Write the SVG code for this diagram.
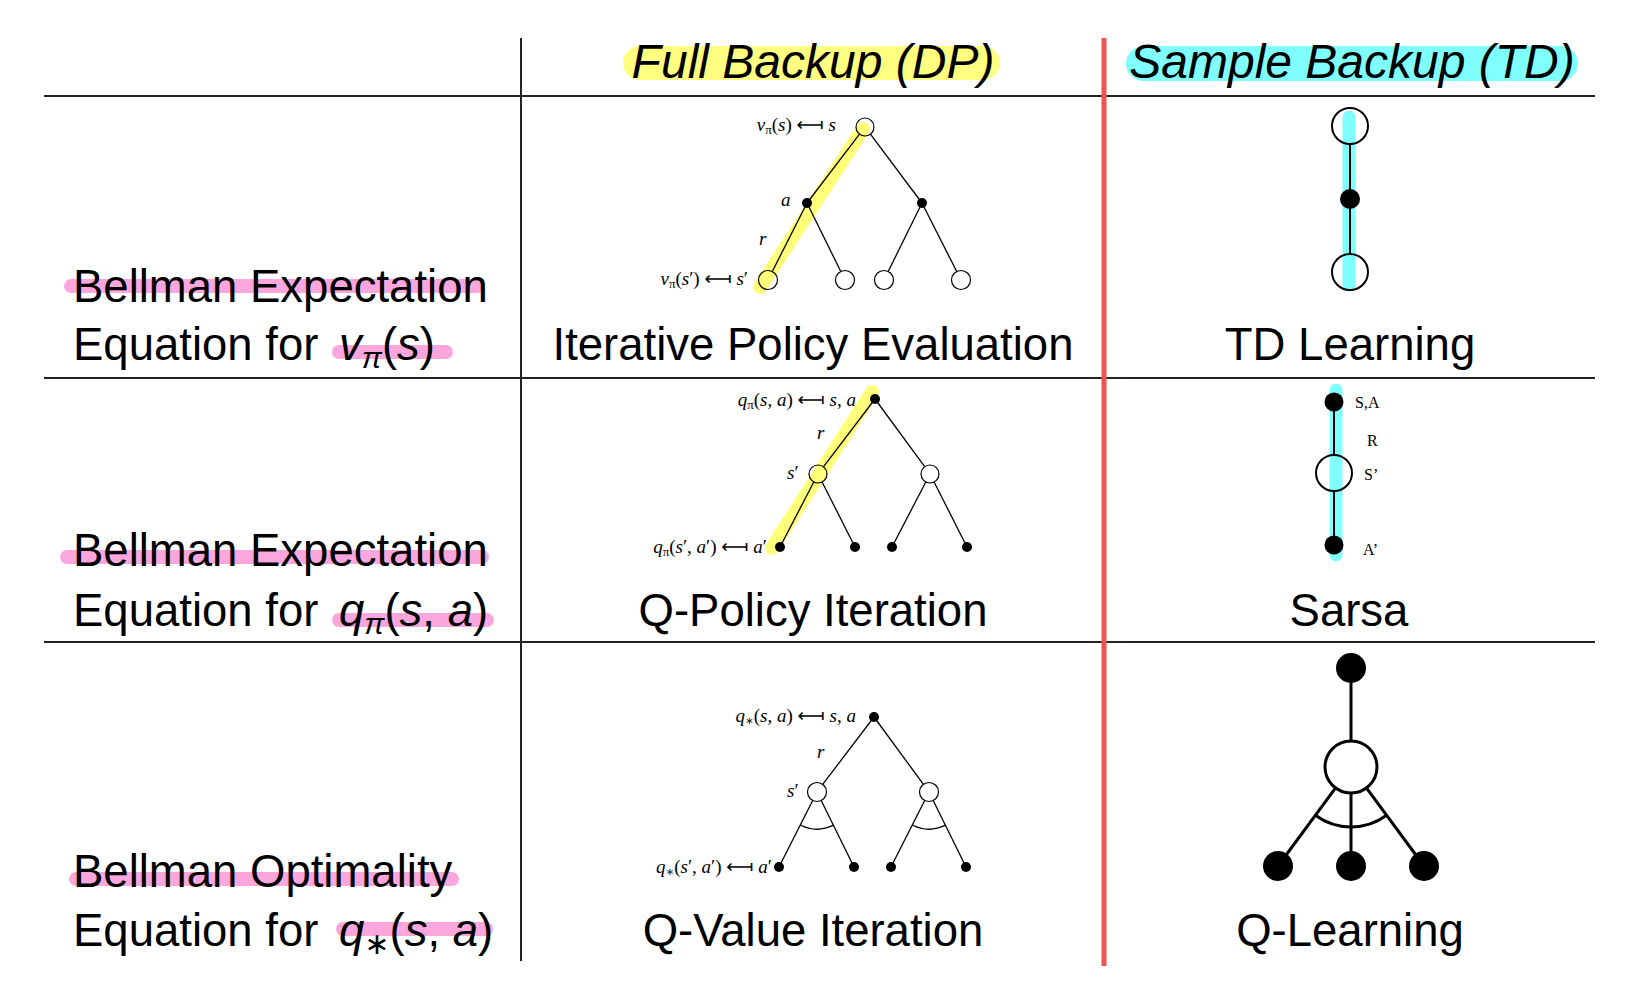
<svg xmlns="http://www.w3.org/2000/svg" width="1638" height="1000" viewBox="0 0 1638 1000">
<style>
.grid{stroke:#222;stroke-width:2;fill:none}
.red{stroke:#f05252;stroke-width:5;fill:none}
.t{font-family:"Liberation Sans","DejaVu Sans",sans-serif;font-size:45.5px;fill:#000}
.h{font-family:"Liberation Sans","DejaVu Sans",sans-serif;font-size:48px;font-style:italic;fill:#000}
.i{font-style:italic}
.m{font-family:"Liberation Serif","DejaVu Serif",serif;font-size:19px;fill:#000}
.arr{font-family:"DejaVu Sans",sans-serif;font-style:normal}
.sm{font-family:"Liberation Serif","DejaVu Serif",serif;font-size:16px;fill:#000}
.pink{stroke:#fba7dd;stroke-width:14;stroke-linecap:round;fill:none}
.yel{stroke:#ffff7a;stroke-width:14;stroke-linecap:round;fill:none}
.cyan{stroke:#80ffff;stroke-width:13;stroke-linecap:round;fill:none}
.e{stroke:#000;stroke-width:1.3;fill:none}
.e2{stroke:#000;stroke-width:2;fill:none}
.e3{stroke:#000;stroke-width:3;fill:none}
.o{fill:#fff;stroke:#000;stroke-width:1.2}
.oh{fill:none;stroke:#000;stroke-width:1.2}
.f{fill:#000}
.o2{fill:none;stroke:#000;stroke-width:2}
.o3{fill:#fff;stroke:#000;stroke-width:3}
</style>
<rect width="1638" height="1000" fill="#fff"/>

<g id="table">
<line class="grid" x1="44" y1="96" x2="1595" y2="96"/>
<line class="grid" x1="44" y1="378" x2="1595" y2="378"/>
<line class="grid" x1="44" y1="642" x2="1595" y2="642"/>
<line class="grid" x1="521" y1="38" x2="521" y2="961"/>
<line class="red" x1="1104" y1="38" x2="1104" y2="966"/>
</g>

<g id="highlights">
<rect x="623" y="46" width="377" height="34" rx="17" fill="#ffff80"/>
<rect x="1126" y="46" width="452" height="35" rx="17.5" fill="#80ffff"/>
<line class="pink" x1="71" y1="286" x2="477" y2="286"/>
<line class="pink" x1="339" y1="352" x2="446" y2="352"/>
<line class="pink" x1="67" y1="557" x2="482" y2="557"/>
<line class="pink" x1="339" y1="620" x2="487" y2="620"/>
<line class="pink" x1="76" y1="879" x2="452" y2="879"/>
<line class="pink" x1="343" y1="929" x2="486" y2="929"/>
<line class="yel" x1="863" y1="129" x2="760" y2="287"/>
<line class="yel" x1="872" y1="392" x2="772" y2="548"/>
<line class="cyan" x1="1349" y1="117" x2="1349" y2="285"/>
<line class="cyan" x1="1336" y1="390" x2="1336" y2="555"/>
</g>

<g id="headers">
<text class="h" x="813" y="78" text-anchor="middle">Full Backup (DP)</text>
<text class="h" x="1352" y="78" text-anchor="middle">Sample Backup (TD)</text>
</g>

<g id="row-labels">
<text class="t" x="73" y="302">Bellman Expectation</text>
<text class="t" x="73" y="360">Equation for <tspan class="i" dx="8">v</tspan><tspan font-size="30" dy="8" class="i">π</tspan><tspan dy="-8">(</tspan><tspan class="i">s</tspan>)</text>
<text class="t" x="73" y="566">Bellman Expectation</text>
<text class="t" x="73" y="626">Equation for <tspan class="i" dx="8">q</tspan><tspan font-size="30" dy="8" class="i">π</tspan><tspan dy="-8">(</tspan><tspan class="i">s</tspan>, <tspan class="i">a</tspan>)</text>
<text class="t" x="73" y="887">Bellman Optimality</text>
<text class="t" x="73" y="946">Equation for <tspan class="i" dx="8">q</tspan><tspan font-size="30" dy="8">∗</tspan><tspan dy="-8">(</tspan><tspan class="i">s</tspan>, <tspan class="i">a</tspan>)</text>
</g>

<g id="cell-labels">
<text class="t" x="813" y="360" text-anchor="middle">Iterative Policy Evaluation</text>
<text class="t" x="813" y="626" text-anchor="middle">Q-Policy Iteration</text>
<text class="t" x="813" y="946" text-anchor="middle">Q-Value Iteration</text>
<text class="t" x="1350" y="360" text-anchor="middle">TD Learning</text>
<text class="t" x="1349" y="626" text-anchor="middle">Sarsa</text>
<text class="t" x="1350" y="946" text-anchor="middle">Q-Learning</text>
</g>

<g id="connectors">
<!-- tree 1 -->
<line class="e" x1="859.5" y1="134.2" x2="807" y2="203"/>
<line class="e" x1="870.4" y1="134.2" x2="922" y2="203"/>
<line class="e" x1="807" y1="203" x2="772.3" y2="271.5"/>
<line class="e" x1="807" y1="203" x2="840.8" y2="271.5"/>
<line class="e" x1="922" y1="203" x2="888.2" y2="271.5"/>
<line class="e" x1="922" y1="203" x2="956.7" y2="271.5"/>
<!-- tree 2 -->
<line class="e" x1="875" y1="399" x2="823.4" y2="466.8"/>
<line class="e" x1="875" y1="399" x2="924.7" y2="466.7"/>
<line class="e" x1="813.8" y1="482" x2="780" y2="547"/>
<line class="e" x1="822.1" y1="482" x2="855" y2="547"/>
<line class="e" x1="925.8" y1="482" x2="892" y2="547"/>
<line class="e" x1="934.1" y1="482" x2="967" y2="547"/>
<!-- tree 3 -->
<line class="e" x1="874" y1="717" x2="822.7" y2="784.4"/>
<line class="e" x1="874" y1="717" x2="923.4" y2="784.3"/>
<line class="e" x1="812.7" y1="800.5" x2="779" y2="867"/>
<line class="e" x1="821.2" y1="800.5" x2="854" y2="867"/>
<line class="e" x1="924.7" y1="800.5" x2="891" y2="867"/>
<line class="e" x1="933.2" y1="800.5" x2="966" y2="867"/>
<path class="e" d="M800.3,825 A37,37 0 0 0 833.4,825.2"/>
<path class="e" d="M912.3,825 A37,37 0 0 0 945.4,825.2"/>
<!-- TD -->
<line class="e2" x1="1350" y1="144" x2="1350" y2="254"/>
<!-- Sarsa -->
<line class="e2" x1="1334" y1="402" x2="1334" y2="455"/>
<line class="e2" x1="1334" y1="491" x2="1334" y2="545"/>
<!-- Q-learning -->
<line class="e3" x1="1351" y1="668" x2="1351" y2="741"/>
<line class="e3" x1="1335.6" y1="787.9" x2="1278" y2="866"/>
<line class="e3" x1="1351" y1="793" x2="1351" y2="866"/>
<line class="e3" x1="1366.4" y1="787.9" x2="1424" y2="866"/>
<path class="e3" d="M1315.4,815.3 A60,60 0 0 0 1386.6,815.3"/>
</g>

<g id="tree1">
<circle id="t1-root" class="oh" cx="865" cy="127" r="9"/>
<circle id="t1-a1" class="f" cx="807" cy="203" r="5"/>
<circle id="t1-a2" class="f" cx="922" cy="203" r="5"/>
<circle id="t1-l1" class="oh" cx="768" cy="280" r="9.5"/>
<circle id="t1-l2" class="o" cx="845" cy="280" r="9.5"/>
<circle id="t1-l3" class="o" cx="884" cy="280" r="9.5"/>
<circle id="t1-l4" class="o" cx="961" cy="280" r="9.5"/>
<text class="m" x="836" y="131" text-anchor="end"><tspan class="i">v</tspan><tspan font-size="13" dy="3">π</tspan><tspan dy="-3">(</tspan><tspan class="i">s</tspan>) <tspan class="arr">⟻</tspan> <tspan class="i">s</tspan></text>
<text class="m i" x="781" y="206">a</text>
<text class="m i" x="759" y="245">r</text>
<text class="m" x="748" y="285" text-anchor="end"><tspan class="i">v</tspan><tspan font-size="13" dy="3">π</tspan><tspan dy="-3">(</tspan><tspan class="i">s</tspan>′) <tspan class="arr">⟻</tspan> <tspan class="i">s</tspan>′</text>
</g>

<g id="tree2">
<circle id="t2-root" class="f" cx="875" cy="399" r="5"/>
<circle id="t2-s1" class="oh" cx="818" cy="474" r="9"/>
<circle id="t2-s2" class="o" cx="930" cy="474" r="9"/>
<circle id="t2-l1" class="f" cx="780" cy="547" r="5"/>
<circle id="t2-l2" class="f" cx="855" cy="547" r="5"/>
<circle id="t2-l3" class="f" cx="892" cy="547" r="5"/>
<circle id="t2-l4" class="f" cx="967" cy="547" r="5"/>
<text class="m" x="856" y="406" text-anchor="end"><tspan class="i">q</tspan><tspan font-size="13" dy="3">π</tspan><tspan dy="-3">(</tspan><tspan class="i">s</tspan>, <tspan class="i">a</tspan>) <tspan class="arr">⟻</tspan> <tspan class="i">s</tspan>, <tspan class="i">a</tspan></text>
<text class="m i" x="817" y="439">r</text>
<text class="m" x="787" y="479"><tspan class="i">s</tspan>′</text>
<text class="m" x="767" y="553" text-anchor="end"><tspan class="i">q</tspan><tspan font-size="13" dy="3">π</tspan><tspan dy="-3">(</tspan><tspan class="i">s</tspan>′, <tspan class="i">a</tspan>′) <tspan class="arr">⟻</tspan> <tspan class="i">a</tspan>′</text>
</g>

<g id="tree3">
<circle id="t3-root" class="f" cx="874" cy="717" r="5"/>
<circle id="t3-s1" class="o" cx="817" cy="792" r="9.5"/>
<circle id="t3-s2" class="o" cx="929" cy="792" r="9.5"/>
<circle id="t3-l1" class="f" cx="779" cy="867" r="5"/>
<circle id="t3-l2" class="f" cx="854" cy="867" r="5"/>
<circle id="t3-l3" class="f" cx="891" cy="867" r="5"/>
<circle id="t3-l4" class="f" cx="966" cy="867" r="5"/>
<text class="m" x="856" y="722" text-anchor="end"><tspan class="i">q</tspan><tspan font-size="13" dy="3">∗</tspan><tspan dy="-3">(</tspan><tspan class="i">s</tspan>, <tspan class="i">a</tspan>) <tspan class="arr">⟻</tspan> <tspan class="i">s</tspan>, <tspan class="i">a</tspan></text>
<text class="m i" x="817" y="758">r</text>
<text class="m" x="787" y="797"><tspan class="i">s</tspan>′</text>
<text class="m" x="772" y="873" text-anchor="end"><tspan class="i">q</tspan><tspan font-size="13" dy="3">∗</tspan><tspan dy="-3">(</tspan><tspan class="i">s</tspan>′, <tspan class="i">a</tspan>′) <tspan class="arr">⟻</tspan> <tspan class="i">a</tspan>′</text>
</g>

<g id="td-learning">
<circle id="td-s" class="o2" cx="1350" cy="126" r="18"/>
<circle id="td-a" class="f" cx="1350" cy="199" r="10"/>
<circle id="td-s2" class="o2" cx="1350" cy="272" r="18"/>
</g>

<g id="sarsa">
<circle id="sa-sa" class="f" cx="1334" cy="402" r="9.5"/>
<circle id="sa-s2" class="o2" cx="1334" cy="473" r="18"/>
<circle id="sa-a2" class="f" cx="1334" cy="545" r="9.5"/>
<text class="sm" x="1355" y="408">S,A</text>
<text class="sm" x="1367" y="446">R</text>
<text class="sm" x="1364" y="480">S’</text>
<text class="sm" x="1363" y="555">A’</text>
</g>

<g id="q-learning">
<circle id="ql-root" class="f" cx="1351" cy="668" r="15"/>
<circle id="ql-s" class="o3" cx="1351" cy="767" r="26"/>
<circle id="ql-a1" class="f" cx="1278" cy="866" r="15"/>
<circle id="ql-a2" class="f" cx="1351" cy="866" r="15"/>
<circle id="ql-a3" class="f" cx="1424" cy="866" r="15"/>
</g>
</svg>
